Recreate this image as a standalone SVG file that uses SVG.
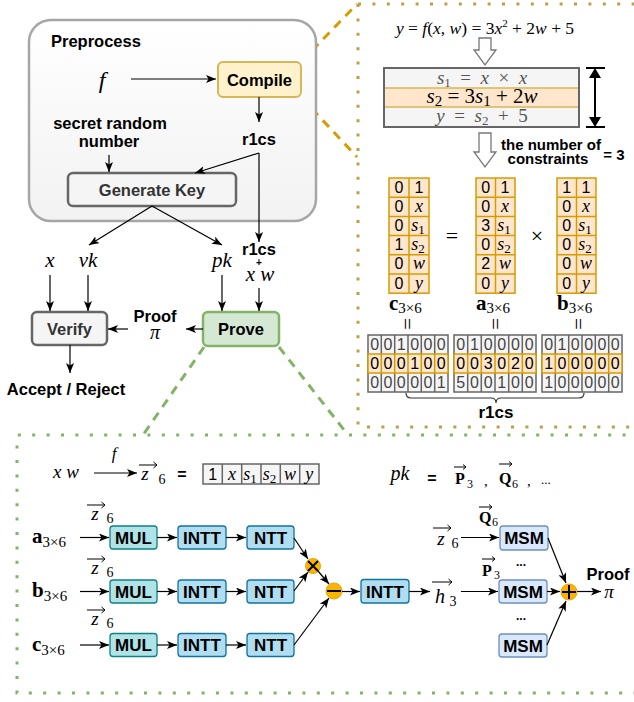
<svg xmlns="http://www.w3.org/2000/svg" width="634" height="702" viewBox="0 0 634 702">
<defs>
<linearGradient id="pg" x1="0" y1="0" x2="0" y2="1"><stop offset="0" stop-color="#ffffff"/><stop offset="1" stop-color="#f2f2f2"/></linearGradient>
<marker id="ah" markerUnits="userSpaceOnUse" markerWidth="10" markerHeight="8" refX="10" refY="4" orient="auto"><path d="M0,0 L10,4 L0,8 L2.5,4 z" fill="#000"/></marker>
</defs>
<style>
.b{font-family:"Liberation Sans",Arial,sans-serif;font-weight:bold;}
.s{font-family:"Liberation Sans",Arial,sans-serif;}
.m{font-family:"Liberation Serif","DejaVu Serif",serif;font-style:italic;font-weight:normal;}
.r{font-family:"Liberation Serif","DejaVu Serif",serif;font-style:normal;font-weight:normal;}
.mb{font-family:"Liberation Serif","DejaVu Serif",serif;font-weight:bold;font-style:normal;}
.c{stroke:#000;stroke-width:1.2;fill:none;marker-end:url(#ah);}
.gray{fill:#f5f5f5;stroke:#666;stroke-width:1.5;}
.org{fill:#ffe6cc;stroke:#d79b00;stroke-width:1.5;}
.mul{fill:#b0e3e6;stroke:#0e8088;stroke-width:1.3;}
.ntt{fill:#b1ddf0;stroke:#10739e;stroke-width:1.3;}
.msm{fill:#dae8fc;stroke:#6c8ebf;stroke-width:1.3;}
.op{fill:#f7b500;stroke:#f0a30a;stroke-width:1;}
</style>

<!-- panel borders -->
<g id="panels">
<path d="M358,4 L640,4 M358,4 L358,427 L640,427" fill="none" stroke="#bf9f45" stroke-width="3" stroke-dasharray="3 11.4"/>
<path d="M640,435 L17,435 L17,693 L640,693" fill="none" stroke="#82b366" stroke-width="3" stroke-dasharray="3 11.4"/>
<path d="M301,62 L357,4 M301,97 L357,157" fill="none" stroke="#d79b00" stroke-width="3" stroke-dasharray="9 7"/>
<path d="M204,347 L143,435 M279,347 L348,435" fill="none" stroke="#82b366" stroke-width="3" stroke-dasharray="9 7"/>
</g>

<g id="preprocess">
<rect x="29" y="20" width="287" height="201" rx="22" fill="url(#pg)" stroke="#a6a6a6" stroke-width="2.5"/>
<text x="51" y="47" class="b" font-size="16.5">Preprocess</text>
</g>
<g id="f-top"><text x="102" y="88" class="m" font-size="24" text-anchor="middle">f</text></g>
<g id="compile">
<rect x="218" y="62" width="83" height="35" rx="5" fill="#fff2cc" stroke="#d6b656" stroke-width="2"/>
<text x="259.5" y="85.5" class="b" font-size="16.5" text-anchor="middle">Compile</text>
</g>
<g id="r1cs-1"><text x="259" y="145" class="b" font-size="16.5" text-anchor="middle">r1cs</text></g>
<g id="secret"><text class="b" font-size="16.5" text-anchor="middle"><tspan x="110" y="129">secret random</tspan><tspan x="109" y="147">number</tspan></text></g>
<g id="genkey">
<rect x="68" y="173" width="168" height="33" rx="5" fill="#f5f5f5" stroke="#666" stroke-width="2.5"/>
<text x="152" y="195.5" class="b" font-size="16.5" fill="#333" text-anchor="middle">Generate Key</text>
</g>
<g id="labels-mid">
<text x="50" y="267" class="m" font-size="21" text-anchor="middle">x</text>
<text x="88" y="267" class="m" font-size="21" text-anchor="middle">vk</text>
<text x="222" y="267" class="m" font-size="21" text-anchor="middle">pk</text>
<text x="259" y="255" class="b" font-size="16.5" text-anchor="middle">r1cs</text>
<text x="259" y="266" class="b" font-size="10" text-anchor="middle">+</text>
<text x="260" y="281" class="m" font-size="21" text-anchor="middle">x w</text>
<text x="155" y="322" class="b" font-size="16.5" text-anchor="middle">Proof</text>
<text x="155" y="339" class="m" font-size="20" text-anchor="middle">π</text>
<text x="66" y="395" class="b" font-size="16.5" text-anchor="middle">Accept / Reject</text>
</g>
<g id="verify">
<rect x="32" y="312" width="75" height="33" rx="5" fill="#f5f5f5" stroke="#666" stroke-width="2.5"/>
<text x="69.5" y="334.5" class="b" font-size="16.5" fill="#333" text-anchor="middle">Verify</text>
</g>
<g id="prove">
<rect x="203" y="312" width="76" height="34" rx="5" fill="#d5e8d4" stroke="#82b366" stroke-width="2.5"/>
<text x="241" y="335" class="b" font-size="16.5" text-anchor="middle">Prove</text>
</g>

<!-- top right -->
<g id="equation">
<text x="485" y="34" class="m" font-size="17.5" text-anchor="middle">y<tspan class="r">&#160;=&#160;</tspan>f<tspan class="r">(</tspan>x<tspan class="r">,&#160;</tspan>w<tspan class="r">)&#160;=&#160;3</tspan>x<tspan class="r" font-size="11" dy="-7">2</tspan><tspan class="r" dy="7">&#160;+&#160;2</tspan>w<tspan class="r">&#160;+&#160;5</tspan></text>
</g>
<g id="hollow-arrows">
<path d="M479,38 L491,38 L491,50 L496,50 L485,65 L474,50 L479,50 Z" fill="#fff" stroke="#777" stroke-width="1.3"/>
<path d="M479,133 L491,133 L491,152 L496,152 L485,167 L474,152 L479,152 Z" fill="#fff" stroke="#777" stroke-width="1.3"/>
</g>
<g id="constraints">
<rect x="384" y="68" width="195" height="20" fill="#f5f5f5"/>
<rect x="384" y="88" width="195" height="19" fill="#ffe6cc"/>
<rect x="384" y="107" width="195" height="20" fill="#f5f5f5"/>
<path d="M385,88 L578,88 M385,107 L578,107" stroke="#d6b656" stroke-width="1.5"/>
<rect x="384" y="68" width="195" height="59" fill="none" stroke="#666" stroke-width="2"/>
<text x="482" y="84" class="m" font-size="19" fill="#555" text-anchor="middle">s<tspan class="r" font-size="13" dy="3">1</tspan><tspan class="r" dy="-3">&#160;&#160;=&#160;&#160;</tspan>x<tspan class="r">&#160;&#160;×&#160;&#160;</tspan>x</text>
<text x="482" y="103" class="m" font-size="21" fill="#000" text-anchor="middle">s<tspan class="r" font-size="15" dy="3">2</tspan><tspan class="r" dy="-3">&#160;=&#160;3</tspan>s<tspan class="r" font-size="15" dy="3">1</tspan><tspan class="r" dy="-3">&#160;+&#160;2</tspan>w</text>
<text x="482" y="122" class="m" font-size="19" fill="#555" text-anchor="middle">y<tspan class="r">&#160;&#160;=&#160;&#160;</tspan>s<tspan class="r" font-size="13" dy="3">2</tspan><tspan class="r" dy="-3">&#160;&#160;+&#160;&#160;5</tspan></text>
<path d="M595,70 L595,125" stroke="#000" stroke-width="2" fill="none"/>
<path d="M589,78 L595,68 L601,78 Z M589,117 L595,127 L601,117 Z" fill="#000"/>
<path d="M586,68 L605,68 M586,127 L605,127" stroke="#000" stroke-width="2"/>
<text class="b" font-size="15" text-anchor="middle"><tspan x="551" y="150">the number of</tspan><tspan x="548" y="164">constraints</tspan></text>
<text x="614" y="160" class="b" font-size="15" text-anchor="middle">= 3</text>
</g>

<g id="matrix-c">
<rect x="389" y="178" width="40" height="115.2" class="org"/>
<path d="M409,178 V293.2 M389,197.2 H429 M389,216.4 H429 M389,235.6 H429 M389,254.8 H429 M389,274 H429" stroke="#d79b00" stroke-width="1.5"/>
<text x="399 399 399 399 399 399" y="192.5 211.7 230.9 250.1 269.3 288.5" class="s" font-size="16" text-anchor="middle">000100</text>
<text x="419" y="192.5" class="s" font-size="16" text-anchor="middle">1</text>
<text x="419" y="211.7" class="m" font-size="18" text-anchor="middle">x</text>
<text x="418" y="230.9" class="m" font-size="18" text-anchor="middle">s<tspan class="r" font-size="13" dy="3">1</tspan></text>
<text x="418" y="250.1" class="m" font-size="18" text-anchor="middle">s<tspan class="r" font-size="13" dy="3">2</tspan></text>
<text x="419" y="269.3" class="m" font-size="18" text-anchor="middle">w</text>
<text x="419" y="288.5" class="m" font-size="18" text-anchor="middle">y</text>
<text x="389" y="310" class="mb" font-size="21">c<tspan class="r" font-size="15" dy="3">3×6</tspan></text>
<text x="406" y="324" class="r" font-size="21" text-anchor="middle" transform="rotate(90 406 324)" dy="6">=</text>
</g>
<g id="matrix-a">
<rect x="476" y="178" width="39" height="115.2" class="org"/>
<path d="M495.5,178 V293.2 M476,197.2 H515 M476,216.4 H515 M476,235.6 H515 M476,254.8 H515 M476,274 H515" stroke="#d79b00" stroke-width="1.5"/>
<text x="485.7 485.7 485.7 485.7 485.7 485.7" y="192.5 211.7 230.9 250.1 269.3 288.5" class="s" font-size="16" text-anchor="middle">003020</text>
<text x="505" y="192.5" class="s" font-size="16" text-anchor="middle">1</text>
<text x="505" y="211.7" class="m" font-size="18" text-anchor="middle">x</text>
<text x="504" y="230.9" class="m" font-size="18" text-anchor="middle">s<tspan class="r" font-size="13" dy="3">1</tspan></text>
<text x="504" y="250.1" class="m" font-size="18" text-anchor="middle">s<tspan class="r" font-size="13" dy="3">2</tspan></text>
<text x="505" y="269.3" class="m" font-size="18" text-anchor="middle">w</text>
<text x="505" y="288.5" class="m" font-size="18" text-anchor="middle">y</text>
<text x="476" y="310" class="mb" font-size="21">a<tspan class="r" font-size="15" dy="3">3×6</tspan></text>
<text x="494" y="324" class="r" font-size="21" text-anchor="middle" transform="rotate(90 494 324)" dy="6">=</text>
</g>
<g id="matrix-b">
<rect x="557" y="178" width="39" height="115.2" class="org"/>
<path d="M576.5,178 V293.2 M557,197.2 H596 M557,216.4 H596 M557,235.6 H596 M557,254.8 H596 M557,274 H596" stroke="#d79b00" stroke-width="1.5"/>
<text x="566.7 566.7 566.7 566.7 566.7 566.7" y="192.5 211.7 230.9 250.1 269.3 288.5" class="s" font-size="16" text-anchor="middle">100000</text>
<text x="586" y="192.5" class="s" font-size="16" text-anchor="middle">1</text>
<text x="586" y="211.7" class="m" font-size="18" text-anchor="middle">x</text>
<text x="585" y="230.9" class="m" font-size="18" text-anchor="middle">s<tspan class="r" font-size="13" dy="3">1</tspan></text>
<text x="585" y="250.1" class="m" font-size="18" text-anchor="middle">s<tspan class="r" font-size="13" dy="3">2</tspan></text>
<text x="586" y="269.3" class="m" font-size="18" text-anchor="middle">w</text>
<text x="586" y="288.5" class="m" font-size="18" text-anchor="middle">y</text>
<text x="557" y="310" class="mb" font-size="21">b<tspan class="r" font-size="15" dy="3">3×6</tspan></text>
<text x="577" y="324" class="r" font-size="21" text-anchor="middle" transform="rotate(90 577 324)" dy="6">=</text>
</g>
<g id="eq-ops">
<text x="452" y="243" class="r" font-size="22" text-anchor="middle">=</text>
<text x="537" y="243" class="r" font-size="22" text-anchor="middle">×</text>
</g>

<g id="r1cs-tables">
<rect x="368" y="335" width="80" height="57" class="gray"/>
<path d="M381.3,335 V392 M394.7,335 V392 M408,335 V392 M421.3,335 V392 M434.7,335 V392" stroke="#666" stroke-width="1.5"/>
<rect x="368" y="354" width="80" height="19" class="org"/>
<path d="M381.3,354 V373 M394.7,354 V373 M408,354 V373 M421.3,354 V373 M434.7,354 V373" stroke="#d79b00" stroke-width="1.5"/>
<text x="374.7 388 401.3 414.7 428 441.3" y="350" class="s" font-size="16" fill="#444" text-anchor="middle">001000</text>
<text x="374.7 388 401.3 414.7 428 441.3" y="369" class="s" font-size="16" text-anchor="middle">000100</text>
<text x="374.7 388 401.3 414.7 428 441.3" y="388" class="s" font-size="16" fill="#444" text-anchor="middle">000001</text>

<rect x="454" y="335" width="82" height="57" class="gray"/>
<path d="M467.7,335 V392 M481.3,335 V392 M495,335 V392 M508.7,335 V392 M522.3,335 V392" stroke="#666" stroke-width="1.5"/>
<rect x="454" y="354" width="82" height="19" class="org"/>
<path d="M467.7,354 V373 M481.3,354 V373 M495,354 V373 M508.7,354 V373 M522.3,354 V373" stroke="#d79b00" stroke-width="1.5"/>
<text x="460.8 474.5 488.2 501.8 515.5 529.2" y="350" class="s" font-size="16" fill="#444" text-anchor="middle">010000</text>
<text x="460.8 474.5 488.2 501.8 515.5 529.2" y="369" class="s" font-size="16" text-anchor="middle">003020</text>
<text x="460.8 474.5 488.2 501.8 515.5 529.2" y="388" class="s" font-size="16" fill="#444" text-anchor="middle">500100</text>

<rect x="542" y="335" width="80" height="57" class="gray"/>
<path d="M555.3,335 V392 M568.7,335 V392 M582,335 V392 M595.3,335 V392 M608.7,335 V392" stroke="#666" stroke-width="1.5"/>
<rect x="542" y="354" width="80" height="19" class="org"/>
<path d="M555.3,354 V373 M568.7,354 V373 M582,354 V373 M595.3,354 V373 M608.7,354 V373" stroke="#d79b00" stroke-width="1.5"/>
<text x="548.7 562 575.3 588.7 602 615.3" y="350" class="s" font-size="16" fill="#444" text-anchor="middle">010000</text>
<text x="548.7 562 575.3 588.7 602 615.3" y="369" class="s" font-size="16" text-anchor="middle">100000</text>
<text x="548.7 562 575.3 588.7 602 615.3" y="388" class="s" font-size="16" fill="#444" text-anchor="middle">100000</text>

<path d="M406,393 q0,5 5,5 L491,398 q5,0 5,5 q0,-5 5,-5 L579,398 q5,0 5,-5" fill="none" stroke="#333" stroke-width="1.2"/>
<text x="496" y="418" class="b" font-size="17" text-anchor="middle">r1cs</text>
</g>

<!-- bottom panel -->
<g id="witness-line">
<text x="66" y="478" class="m" font-size="19" text-anchor="middle">x w</text>
<text x="114" y="459" class="m" font-size="17" text-anchor="middle">f</text>
<text x="145" y="480" class="m" font-size="19" text-anchor="middle">z</text>
<text x="162" y="484" class="r" font-size="14" text-anchor="middle">6</text>
<text x="182" y="480" class="b" font-size="16" text-anchor="middle">=</text>
<rect x="203" y="464" width="116" height="20" class="gray"/>
<path d="M222.3,464 V484 M241.7,464 V484 M261,464 V484 M280.3,464 V484 M299.7,464 V484" stroke="#666" stroke-width="1.5"/>
<text x="212.7" y="480" class="s" font-size="16" text-anchor="middle">1</text>
<text x="232" y="480" class="m" font-size="18" text-anchor="middle">x</text>
<text x="250" y="480" class="m" font-size="18" text-anchor="middle">s<tspan class="r" font-size="13" dy="3">1</tspan></text>
<text x="269.5" y="480" class="m" font-size="18" text-anchor="middle">s<tspan class="r" font-size="13" dy="3">2</tspan></text>
<text x="290" y="480" class="m" font-size="18" text-anchor="middle">w</text>
<text x="309.3" y="480" class="m" font-size="18" text-anchor="middle">y</text>
</g>
<g id="pk-line">
<text x="400" y="480" class="m" font-size="20" text-anchor="middle">pk</text>
<text x="432" y="484" class="b" font-size="16" text-anchor="middle">=</text>
<text x="455" y="484" class="mb" font-size="16">P</text>
<text x="467" y="488" class="r" font-size="12">3</text>
<text x="484" y="486" class="r" font-size="15">,</text>
<text x="499" y="484" class="mb" font-size="16">Q</text>
<text x="512" y="488" class="r" font-size="12">6</text>
<text x="527" y="486" class="r" font-size="15">,</text>
<text x="541" y="484" class="r" font-size="13">...</text>
</g>

<g id="row-a">
<text x="32" y="543" class="mb" font-size="21">a<tspan class="r" font-size="15" dy="4">3×6</tspan></text>
<text x="95" y="520" class="m" font-size="19" text-anchor="middle">z</text>
<text x="110" y="523" class="r" font-size="14" text-anchor="middle">6</text>
</g>
<g id="mul-a"><rect x="110" y="526" width="47" height="23" rx="3" class="mul"/><text x="133.5" y="543.5" class="b" font-size="17" text-anchor="middle">MUL</text></g>
<g id="intt-a"><rect x="178" y="526" width="48" height="23" rx="3" class="ntt"/><text x="202" y="543.5" class="b" font-size="17" text-anchor="middle">INTT</text></g>
<g id="ntt-a"><rect x="247" y="526" width="47" height="23" rx="3" class="ntt"/><text x="270.5" y="543.5" class="b" font-size="17" text-anchor="middle">NTT</text></g>

<g id="row-b">
<text x="32" y="597" class="mb" font-size="21">b<tspan class="r" font-size="15" dy="4">3×6</tspan></text>
<text x="95" y="574" class="m" font-size="19" text-anchor="middle">z</text>
<text x="110" y="577" class="r" font-size="14" text-anchor="middle">6</text>
</g>
<g id="mul-b"><rect x="110" y="580" width="47" height="23" rx="3" class="mul"/><text x="133.5" y="597.5" class="b" font-size="17" text-anchor="middle">MUL</text></g>
<g id="intt-b"><rect x="178" y="580" width="48" height="23" rx="3" class="ntt"/><text x="202" y="597.5" class="b" font-size="17" text-anchor="middle">INTT</text></g>
<g id="ntt-b"><rect x="247" y="580" width="47" height="23" rx="3" class="ntt"/><text x="270.5" y="597.5" class="b" font-size="17" text-anchor="middle">NTT</text></g>

<g id="row-c">
<text x="32" y="651" class="mb" font-size="21">c<tspan class="r" font-size="15" dy="4">3×6</tspan></text>
<text x="95" y="625" class="m" font-size="19" text-anchor="middle">z</text>
<text x="110" y="628" class="r" font-size="14" text-anchor="middle">6</text>
</g>
<g id="mul-c"><rect x="110" y="633.5" width="47" height="23" rx="3" class="mul"/><text x="133.5" y="651" class="b" font-size="17" text-anchor="middle">MUL</text></g>
<g id="intt-c"><rect x="178" y="633.5" width="48" height="23" rx="3" class="ntt"/><text x="202" y="651" class="b" font-size="17" text-anchor="middle">INTT</text></g>
<g id="ntt-c"><rect x="247" y="633.5" width="47" height="23" rx="3" class="ntt"/><text x="270.5" y="651" class="b" font-size="17" text-anchor="middle">NTT</text></g>

<g id="op-mul"><circle cx="313" cy="566" r="7.5" class="op"/><path d="M308,561 L318,571 M318,561 L308,571" stroke="#000" stroke-width="2"/></g>
<g id="op-sub"><circle cx="334" cy="591" r="8" class="op"/><path d="M327,591 L341,591" stroke="#000" stroke-width="2"/></g>
<g id="intt-h"><rect x="361" y="579.5" width="48" height="23.5" rx="3" class="ntt"/><text x="385" y="597.5" class="b" font-size="17" text-anchor="middle">INTT</text></g>
<g id="h-label">
<text x="440" y="603" class="m" font-size="20" text-anchor="middle">h</text>
<text x="453" y="606" class="r" font-size="14" text-anchor="middle">3</text>
<text x="441" y="545" class="m" font-size="19" text-anchor="middle">z</text>
<text x="455" y="548" class="r" font-size="14" text-anchor="middle">6</text>
<text x="479" y="523" class="mb" font-size="16">Q</text>
<text x="492" y="526" class="r" font-size="12">6</text>
<text x="482" y="576" class="mb" font-size="16">P</text>
<text x="494" y="579" class="r" font-size="12">3</text>
<text x="521" y="566" class="b" font-size="12" text-anchor="middle">...</text>
<text x="521" y="620" class="b" font-size="12" text-anchor="middle">...</text>
</g>
<g id="msm-1"><rect x="500" y="526" width="48" height="24" rx="3" class="msm"/><text x="524" y="544" class="b" font-size="17" text-anchor="middle">MSM</text></g>
<g id="msm-2"><rect x="499" y="580" width="48" height="23" rx="3" class="msm"/><text x="523" y="597.5" class="b" font-size="17" text-anchor="middle">MSM</text></g>
<g id="msm-3"><rect x="499" y="634" width="48" height="23" rx="3" class="msm"/><text x="523" y="651.5" class="b" font-size="17" text-anchor="middle">MSM</text></g>
<g id="op-add"><circle cx="569" cy="592" r="8" class="op"/><path d="M562,592 L576,592 M569,585 L569,599" stroke="#000" stroke-width="2"/></g>
<g id="proof-out">
<text x="608" y="580" class="b" font-size="16.5" text-anchor="middle">Proof</text>
<text x="609" y="598" class="m" font-size="19" text-anchor="middle">π</text>
</g>

<!-- vector arrows over symbols -->
<g id="vec-arrows" stroke="#000" stroke-width="1" fill="none">
<path d="M139,465 L157,465 M153.5,462 L157,465 L153.5,468"/>
<path d="M87,505 L105,505 M101.5,502 L105,505 L101.5,508"/>
<path d="M87,559 L105,559 M101.5,556 L105,559 L101.5,562"/>
<path d="M87,610 L105,610 M101.5,607 L105,610 L101.5,613"/>
<path d="M433,528 L451,528 M447.5,525 L451,528 L447.5,531"/>
<path d="M432,582 L452,582 M448.5,579 L452,582 L448.5,585"/>
<path d="M454,467 L466,467 M463,464.5 L466,467 L463,469.5"/>
<path d="M499,464 L512,464 M509,461.5 L512,464 L509,466.5"/>
<path d="M479,507 L492,507 M489,504.5 L492,507 L489,509.5"/>
<path d="M482,559 L495,559 M492,556.5 L495,559 L492,561.5"/>
</g>

<g id="connectors">
<path class="c" d="M131,79 L216,79"/>
<path class="c" d="M259,97 L259,122"/>
<path class="c" d="M109,155 L109,172"/>
<path class="c" d="M259,153 L195,173"/>
<path class="c" d="M259,153 L259,242"/>
<path class="c" d="M152,206 L89,245"/>
<path class="c" d="M152,206 L222,245"/>
<path class="c" d="M50,275 L50,311"/>
<path class="c" d="M88,275 L88,311"/>
<path class="c" d="M222,275 L222,311"/>
<path class="c" d="M259,288 L259,311"/>
<path class="c" d="M203,329 L186,329"/>
<path class="c" d="M128,329 L108,329"/>
<path class="c" d="M70,345 L70,373"/>
<path class="c" d="M94,473 L137,473"/>
<path class="c" d="M80,537.5 L109,537.5"/>
<path class="c" d="M157,537.5 L177,537.5"/>
<path class="c" d="M226,537.5 L246,537.5"/>
<path class="c" d="M80,591.5 L109,591.5"/>
<path class="c" d="M157,591.5 L177,591.5"/>
<path class="c" d="M226,591.5 L246,591.5"/>
<path class="c" d="M80,645 L109,645"/>
<path class="c" d="M157,645 L177,645"/>
<path class="c" d="M226,645 L246,645"/>
<path class="c" d="M294,538 L308,559"/>
<path class="c" d="M294,591 L308,572"/>
<path class="c" d="M318,571 L329,584"/>
<path class="c" d="M294,645 L329,598"/>
<path class="c" d="M342,591.5 L360,591.5"/>
<path class="c" d="M409,591.5 L430,591.5"/>
<path class="c" d="M461,591.5 L498,591.5"/>
<path class="c" d="M461,537.5 L499,537.5"/>
<path class="c" d="M548,538 L566,583"/>
<path class="c" d="M547,591.5 L560,591.5"/>
<path class="c" d="M547,645 L566,601"/>
<path class="c" d="M577,591.5 L601,591.5"/>
</g>
</svg>
